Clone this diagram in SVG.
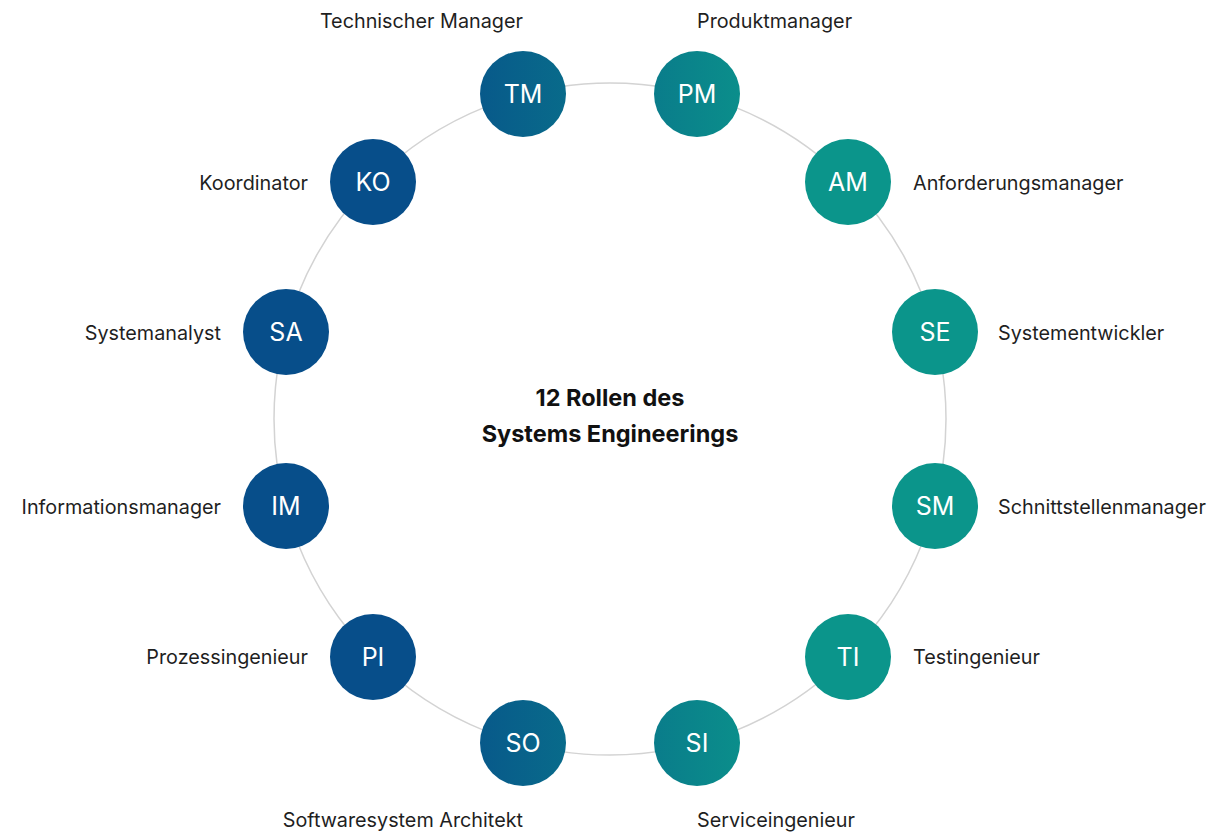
<svg xmlns="http://www.w3.org/2000/svg" width="1215" height="833" viewBox="0 0 1215 833">
<defs>
<linearGradient id="g" gradientUnits="userSpaceOnUse" x1="424" y1="0" x2="775" y2="0">
<stop offset="0" stop-color="#074e8a"/>
<stop offset="1" stop-color="#0b958b"/>
</linearGradient>
</defs>
<style>
.n{fill:url(#g)}
.t{font-family:Inter,"Noto Sans",sans-serif;font-size:25px;fill:#ffffff;text-anchor:middle;dominant-baseline:central}
.l{font-family:Inter,"Noto Sans",sans-serif;font-size:19.8px;fill:#1f1f1f;dominant-baseline:central}
.e{text-anchor:end}
.c{font-family:Inter,"Noto Sans",sans-serif;font-size:23.5px;font-weight:700;fill:#111;text-anchor:middle}
</style>
<rect width="1215" height="833" fill="#ffffff"/>
<g id="connectors">
<circle cx="610" cy="419" r="336" fill="none" stroke="#d3d3d3" stroke-width="1.5"/>
</g>
<g id="center"><text class="c" x="610" y="406">12 Rollen des</text><text class="c" x="610" y="442">Systems Engineerings</text></g>
<g id="TM"><circle class="n" cx="523" cy="94" r="43"/><text class="t" x="523" y="94">TM</text><text class="l e" x="523" y="21">Technischer Manager</text></g>
<g id="PM"><circle class="n" cx="697" cy="94" r="43"/><text class="t" x="697" y="94">PM</text><text class="l" x="697" y="21">Produktmanager</text></g>
<g id="AM"><circle class="n" cx="848" cy="182" r="43"/><text class="t" x="848" y="182">AM</text><text class="l" x="913" y="183">Anforderungsmanager</text></g>
<g id="SE"><circle class="n" cx="935" cy="332" r="43"/><text class="t" x="935" y="332">SE</text><text class="l" x="998" y="333">Systementwickler</text></g>
<g id="SM"><circle class="n" cx="935" cy="506" r="43"/><text class="t" x="935" y="506">SM</text><text class="l" x="998" y="507">Schnittstellenmanager</text></g>
<g id="TI"><circle class="n" cx="848" cy="657" r="43"/><text class="t" x="848" y="657">TI</text><text class="l" x="913" y="657">Testingenieur</text></g>
<g id="SI"><circle class="n" cx="697" cy="743" r="43"/><text class="t" x="697" y="743">SI</text><text class="l" x="697" y="820">Serviceingenieur</text></g>
<g id="SO"><circle class="n" cx="523" cy="743" r="43"/><text class="t" x="523" y="743">SO</text><text class="l e" x="523" y="820">Softwaresystem Architekt</text></g>
<g id="PI"><circle class="n" cx="373" cy="657" r="43"/><text class="t" x="373" y="657">PI</text><text class="l e" x="308" y="657">Prozessingenieur</text></g>
<g id="IM"><circle class="n" cx="286" cy="506" r="43"/><text class="t" x="286" y="506">IM</text><text class="l e" x="221" y="507">Informationsmanager</text></g>
<g id="SA"><circle class="n" cx="286" cy="332" r="43"/><text class="t" x="286" y="332">SA</text><text class="l e" x="221" y="333">Systemanalyst</text></g>
<g id="KO"><circle class="n" cx="373" cy="182" r="43"/><text class="t" x="373" y="182">KO</text><text class="l e" x="308" y="183">Koordinator</text></g>
</svg>
